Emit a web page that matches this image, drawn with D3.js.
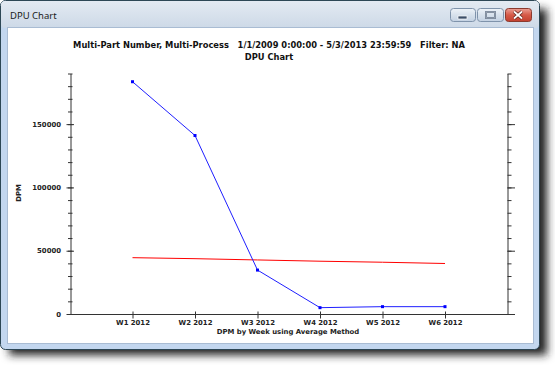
<!DOCTYPE html>
<html><head><meta charset="utf-8">
<script src="https://cdn.jsdelivr.net/npm/d3@7"></script>
<style>html,body{margin:0;padding:0;background:#fff;}svg{display:block;}text{white-space:pre;}</style>
</head><body>
<svg id="c" width="555" height="366"></svg>
<script>
// ---- data ----
const categories = ["W1 2012","W2 2012","W3 2012","W4 2012","W5 2012","W6 2012"];
const dpmValues = [183500, 141000, 34700, 5000, 5800, 5800];
const avgValues = [44500, 43700, 42700, 41700, 40900, 39900];
const yMajorTicks = [0, 50000, 100000, 150000];
const yMinorTicks = d3.range(0, 190001, 10000);
const windowTitle = "DPU Chart";
const titleLine1 = "Multi-Part Number, Multi-Process   1/1/2009 0:00:00 - 5/3/2013 23:59:59   Filter: NA";
const titleLine2 = "DPU Chart";
const xAxisTitle = "DPM by Week using Average Method";
const yAxisTitle = "DPM";

const svg = d3.select("#c");
const defs = svg.append("defs");
const f = defs.append("filter").attr("id","sh").attr("x","-10%").attr("y","-10%").attr("width","130%").attr("height","130%");
f.append("feGaussianBlur").attr("stdDeviation",4);
const tg = defs.append("linearGradient").attr("id","tb").attr("x1",0).attr("y1",0).attr("x2",0).attr("y2",1);
tg.append("stop").attr("offset","0").attr("stop-color","#e3eaf2");
tg.append("stop").attr("offset","1").attr("stop-color","#cdd9e7");
const bg = defs.append("linearGradient").attr("id","bt").attr("x1",0).attr("y1",0).attr("x2",0).attr("y2",1);
bg.append("stop").attr("offset","0").attr("stop-color","#eef3f8");
bg.append("stop").attr("offset","0.5").attr("stop-color","#d7e1ec");
bg.append("stop").attr("offset","1").attr("stop-color","#c3d1e2");
const rg = defs.append("linearGradient").attr("id","rd").attr("x1",0).attr("y1",0).attr("x2",0).attr("y2",1);
rg.append("stop").attr("offset","0").attr("stop-color","#eba197");
rg.append("stop").attr("offset","0.5").attr("stop-color","#d65a48");
rg.append("stop").attr("offset","1").attr("stop-color","#c2402f");

// shadow
svg.append("rect").attr("x",9).attr("y",9).attr("width",538).attr("height",346)
  .attr("fill","#222").attr("filter","url(#sh)");
// window frame
svg.append("rect").attr("x",0.5).attr("y",0.5).attr("width",539).attr("height",349).attr("rx",5)
  .attr("fill","#c3d7ef").attr("stroke","#2d4755");
svg.append("rect").attr("x",1).attr("y",1).attr("width",538).attr("height",27).attr("rx",4)
  .attr("fill","url(#tb)");
svg.append("rect").attr("x",7.5).attr("y",27.5).attr("width",526).attr("height",316)
  .attr("fill","#fff").attr("stroke","#a9bcd3");
svg.append("text").attr("x",10).attr("y",19).attr("font-family","'Noto Sans',sans-serif")
  .attr("font-size",9.5).attr("fill","#1a1a1a").text(windowTitle);
// buttons
function btn(x,w,fill,stroke){
  return svg.append("rect").attr("x",x+0.5).attr("y",8.5).attr("width",w).attr("height",13).attr("rx",3)
    .attr("fill",fill).attr("stroke",stroke);
}
btn(450,25,"url(#bt)","#7f93ab");
btn(477,26,"url(#bt)","#7f93ab");
btn(505,26,"url(#rd)","#8b3a2e");
svg.append("rect").attr("x",458).attr("y",16).attr("width",9).attr("height",3).attr("fill","#3c4f68").attr("stroke","#fff").attr("stroke-width",0.7);
svg.append("rect").attr("x",486).attr("y",12).attr("width",9).attr("height",6).attr("fill","none").attr("stroke","#3c4f68").attr("stroke-width",1.6);
svg.append("rect").attr("x",486).attr("y",12).attr("width",9).attr("height",6).attr("fill","none").attr("stroke","#fff").attr("stroke-width",0.5);
svg.append("path").attr("d","M514,11.5L522,18.5M522,11.5L514,18.5").attr("stroke","#5a1f17").attr("stroke-width",3.2);
svg.append("path").attr("d","M514,11.5L522,18.5M522,11.5L514,18.5").attr("stroke","#fff").attr("stroke-width",1.8);

// ---- chart ----
const x = d3.scaleLinear().domain([0, categories.length + 1]).range([70, 507.5]);
const y = d3.scaleLinear().domain([0, 190000]).range([314, 73.5]);
const font = "'DejaVu Sans',Verdana,sans-serif";
const g = svg.append("g");

// measure font size so a tick label matches the reference width
const probe = g.append("text").attr("font-family",font).attr("font-weight","bold").attr("font-size",10).text(categories[0]);
const fs = Math.min(8, 10 * 34 / probe.node().getComputedTextLength());
probe.remove();

// titles
const t1 = g.append("text").attr("x",269).attr("y",48).attr("text-anchor","middle")
  .attr("font-family",font).attr("font-weight","bold").attr("font-size",10).attr("fill","#111").text(titleLine1);
const w = t1.node().getComputedTextLength();
const tfs = 10 * 392 / w;
t1.attr("font-size", tfs);
g.append("text").attr("x",269).attr("y",60).attr("text-anchor","middle")
  .attr("font-family",font).attr("font-weight","bold").attr("font-size",tfs).attr("fill","#111").text(titleLine2);

const axisCol = "#333";
const fmt = d3.format("d");
// left axis
g.append("g").attr("transform","translate(70.5,0)").call(d3.axisLeft(y).tickValues(yMinorTicks).tickSize(2).tickSizeOuter(0).tickFormat(""))
  .call(s=>{s.selectAll("line").attr("stroke",axisCol).attr("x2",-2.5).attr("x1",2);s.select(".domain").attr("stroke",axisCol);});
g.append("g").attr("transform","translate(70.5,0)").call(d3.axisLeft(y).tickValues(yMajorTicks).tickSize(4).tickSizeOuter(0).tickFormat(fmt))
  .call(s=>{s.select(".domain").remove();
    s.selectAll("line").attr("stroke",axisCol).attr("x1",3.5).attr("x2",-4);
    s.selectAll("text").attr("font-family",font).attr("font-weight","bold").attr("font-size",fs).attr("fill","#222").attr("x",-9.5);});
// right axis
g.append("g").attr("transform","translate(507.5,0)").call(d3.axisRight(y).tickValues(yMinorTicks).tickSize(4).tickSizeOuter(0).tickFormat(""))
  .call(s=>{s.selectAll("line").attr("stroke",axisCol);s.select(".domain").attr("stroke",axisCol);});
g.append("g").attr("transform","translate(507.5,0)").call(d3.axisRight(y).tickValues(yMajorTicks).tickSize(7.5).tickSizeOuter(0).tickFormat(""))
  .call(s=>{s.select(".domain").remove();s.selectAll("line").attr("stroke",axisCol);});
// bottom axis
g.append("g").attr("transform","translate(0,314.5)")
  .call(d3.axisBottom(x).tickValues(d3.range(1, categories.length + 1)).tickSize(4).tickSizeOuter(0).tickPadding(3)
    .tickFormat(i => categories[i-1]))
  .call(s=>{s.select(".domain").attr("stroke",axisCol).attr("d","M70,0H515");
    s.selectAll("line").attr("stroke",axisCol).attr("y1",-3);
    s.selectAll("text").attr("font-family",font).attr("font-weight","bold").attr("font-size",fs).attr("fill","#222").attr("y",5.5).attr("dy","0.71em");});

g.append("text").attr("x",288).attr("y",334).attr("text-anchor","middle")
  .attr("font-family",font).attr("font-weight","bold").attr("font-size",fs).attr("fill","#222").text(xAxisTitle);
g.append("text").attr("transform","translate(20.5,193) rotate(-90)").attr("text-anchor","middle")
  .attr("font-family",font).attr("font-weight","bold").attr("font-size",fs).attr("fill","#222").text(yAxisTitle);

// lines
const line = d3.line().x((d,i)=>x(i+1)).y(d=>y(d));
g.append("path").datum(avgValues).attr("d",line).attr("fill","none").attr("stroke","#ff0000").attr("stroke-width",1);
g.append("path").datum(dpmValues).attr("d",line).attr("fill","none").attr("stroke","#1f1fff").attr("stroke-width",1);
g.selectAll("rect.pt").data(dpmValues).join("rect").attr("class","pt")
  .attr("x",(d,i)=>x(i+1)-1.5).attr("y",d=>y(d)-1.5).attr("width",3).attr("height",3).attr("fill","#0000ff");
</script>
</body></html>
